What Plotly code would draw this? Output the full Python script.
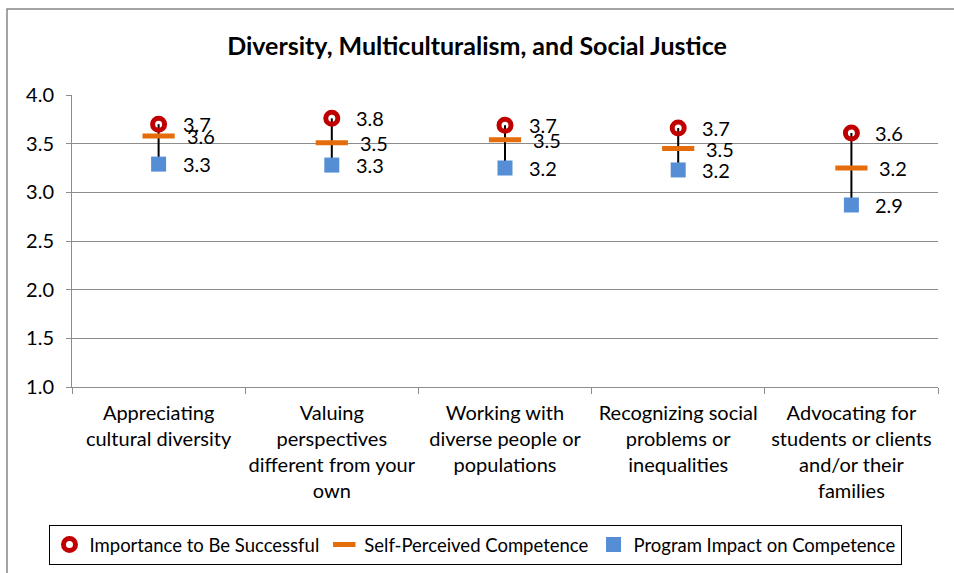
import plotly.graph_objects as go

categories = [
    "Appreciating<br>cultural diversity",
    "Valuing<br>perspectives<br>different from your<br>own",
    "Working with<br>diverse people or<br>populations",
    "Recognizing social<br>problems or<br>inequalities",
    "Advocating for<br>students or clients<br>and/or their<br>families",
]
importance = [3.70, 3.76, 3.69, 3.66, 3.61]
self_perceived = [3.58, 3.51, 3.54, 3.45, 3.25]
program_impact = [3.29, 3.28, 3.25, 3.23, 2.87]

FONT = "Lato"
GRID = "#8c8c8c"
FS = 20

fig = go.Figure()

# high-low lines
hl_x, hl_y = [], []
for c, hi, lo in zip(categories, importance, program_impact):
    hl_x += [c, c, None]
    hl_y += [hi, lo, None]
fig.add_trace(go.Scatter(x=hl_x, y=hl_y, mode="lines", line=dict(color="black", width=2),
                         showlegend=False, hoverinfo="skip"))

fig.add_trace(go.Scatter(
    x=categories, y=program_impact, mode="markers", name="Program Impact on Competence",
    marker=dict(symbol="square", size=15, color="#558ED5")))
fig.add_trace(go.Scatter(
    x=categories, y=self_perceived, mode="markers", name="Self-Perceived Competence",
    marker=dict(symbol="line-ew", size=23, line=dict(color="#E46C0A", width=5))))
fig.add_trace(go.Scatter(
    x=categories, y=importance, mode="markers", name="Importance to Be Successful",
    marker=dict(symbol="circle-open", size=12, line=dict(color="#C00000", width=5), color="#C00000")))

annotations = []
for series, shift in ((importance, 22), (self_perceived, 26), (program_impact, 22)):
    for c, v in zip(categories, series):
        annotations.append(dict(x=c, y=v, xref="x", yref="y", text=f"{v:.1f}", showarrow=False,
                                xanchor="left", yanchor="middle", xshift=shift,
                                font=dict(size=FS, family=FONT, color="black")))

fig.update_layout(
    width=954, height=573,
    margin=dict(l=72, r=16, t=95, b=186, autoexpand=False),
    paper_bgcolor="white", plot_bgcolor="white",
    font=dict(family=FONT, size=FS, color="black"),
    title=dict(text="<b>Diversity, Multiculturalism, and Social Justice</b>",
               x=0.5, xanchor="center", y=0.92, yanchor="middle",
               font=dict(size=25, family=FONT, color="black")),
    showlegend=True,
    annotations=annotations,
    legend=dict(orientation="h", xref="container", yref="container",
                x=475 / 954, xanchor="center", y=1 - 525 / 573, yanchor="top",
                bordercolor="black", borderwidth=1, traceorder="reversed",
                font=dict(size=18.5, family=FONT), itemwidth=30, tracegroupgap=0),
    xaxis=dict(type="category", tickson="boundaries", showgrid=False, showline=True,
               linecolor=GRID, linewidth=1, ticks="outside", ticklen=6, tickcolor=GRID,
               tickfont=dict(size=FS, family=FONT), range=[-0.5, 4.5], ticklabelstandoff=8,
               tickangle=0),
    yaxis=dict(range=[1, 4], dtick=0.5, tickformat=".1f", showgrid=True, gridcolor=GRID,
               gridwidth=1, showline=True, linecolor=GRID, ticks="outside", ticklen=5,
               tickcolor=GRID, zeroline=False, tickfont=dict(size=FS, family=FONT),
               ticklabelstandoff=8),
    shapes=[dict(type="rect", xref="paper", yref="paper",
                 x0=(7 - 72) / 866, x1=(970 - 72) / 866,
                 y0=(387 - 600) / 292, y1=(387 - 9) / 292,
                 line=dict(color="#868686", width=1.5), layer="below")],
)
fig.write_html("out.html", config={"displayModeBar": False},
               post_script="document.body.style.margin='0';")
